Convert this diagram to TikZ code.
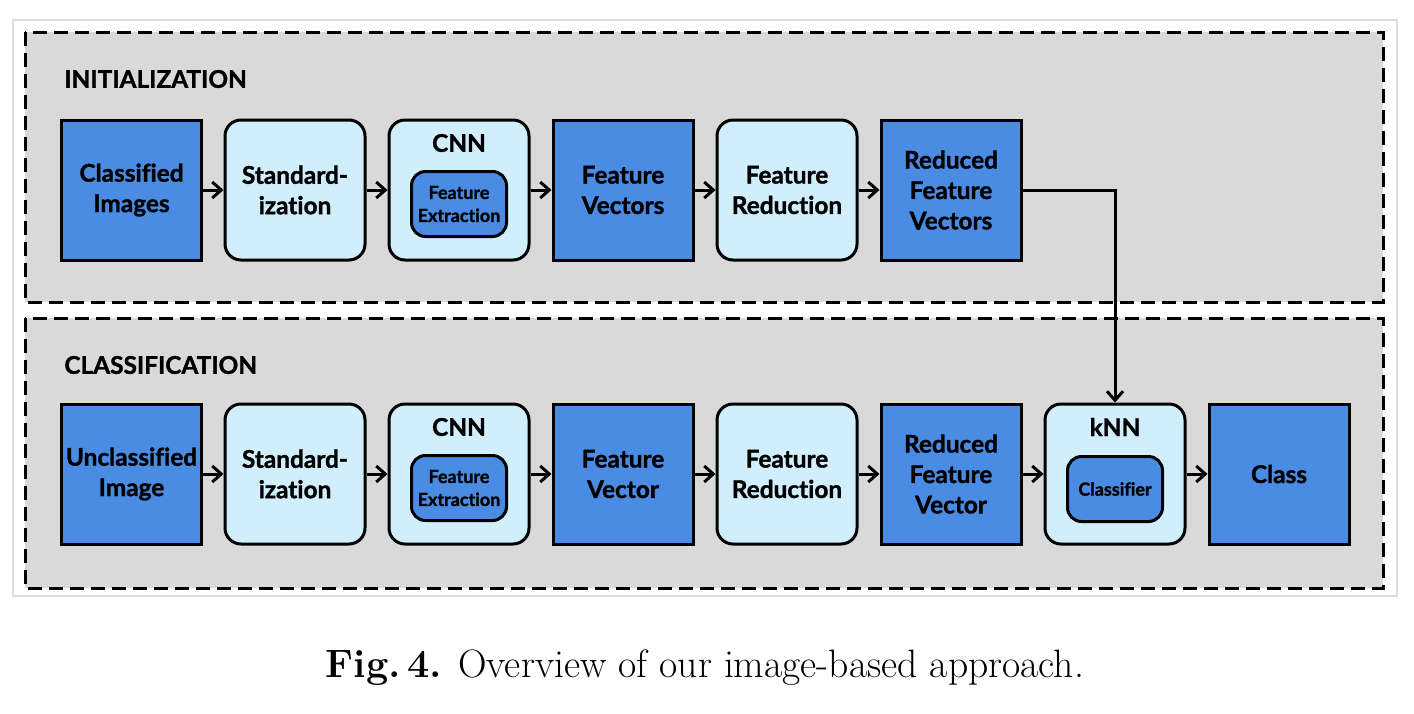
\documentclass[tikz,border=0pt]{standalone}
\usepackage{fontspec}
\newfontfamily\lato{Lato}[Ligatures=NoCommon,BoldFeatures={FakeBold=1.3}]
\usetikzlibrary{arrows.meta}
\definecolor{dblue}{RGB}{74,140,228}
\definecolor{lblue}{RGB}{208,238,252}
\definecolor{panel}{RGB}{217,217,217}
\definecolor{frame}{RGB}{220,220,220}
\begin{document}
\begin{tikzpicture}[x=0.5pt,y=-0.5pt,
  boxfont/.style={font=\lato\bfseries\fontsize{12.2}{15.2}\selectfont},
  dbox/.style={boxfont,draw=black,line width=1.5pt,fill=dblue,minimum width=70pt,minimum height=70pt,align=center,inner sep=0pt},
  lbox/.style={dbox,fill=lblue,rounded corners=8pt},
  inbox/.style={draw=black,line width=1.5pt,fill=dblue,rounded corners=7pt,minimum width=47.5pt,minimum height=32.5pt,align=center,inner sep=0pt,font=\lato\bfseries\fontsize{9}{11.5}\selectfont},
  panelbox/.style={draw=black,line width=1.5pt,fill=panel,dash pattern=on 7pt off 3.5pt},
  seclabel/.style={boxfont,anchor=west,inner sep=0pt},
  arr/.style={draw=black,line width=1.5pt,-{Straight Barb[length=4.5pt,width=8pt,line width=1.5pt]}}]
\useasboundingbox (0,0) rectangle (1414,713);
\fill[white] (0,0) rectangle (1414,713);
\draw[frame,line width=0.6pt] (13,20) rectangle (1397,596);
\draw[panelbox] (25,32) rectangle (1383,302);
\draw[panelbox] (25,318) rectangle (1383,588);
\node[seclabel] (sec1) at (64,79) {INITIALIZATION};
\node[seclabel] (sec2) at (64,365) {CLASSIFICATION};
% row 1
\node[dbox] (a1) at (131.5,190) {Classified\\Images};
\node[lbox] (a2) at (295,190) {Standard-\\ization};
\node[lbox] (a3) at (459,190) {};
\node[boxfont,inner sep=0pt] (a3t) at (459,143) {CNN};
\node[inbox] (a3i) at (459,204) {Feature\\Extraction};
\node[dbox] (a4) at (623,190) {Feature\\Vectors};
\node[lbox] (a5) at (787,190) {Feature\\Reduction};
\node[dbox] (a6) at (951,190) {Reduced\\Feature\\Vectors};
% row 2
\node[dbox] (b1) at (131.5,474) {Unclassified\\Image};
\node[lbox] (b2) at (295,474) {Standard-\\ization};
\node[lbox] (b3) at (459,474) {};
\node[boxfont,inner sep=0pt] (b3t) at (459,427) {CNN};
\node[inbox] (b3i) at (459,488) {Feature\\Extraction};
\node[dbox] (b4) at (623,474) {Feature\\Vector};
\node[lbox] (b5) at (787,474) {Feature\\Reduction};
\node[dbox] (b6) at (951,474) {Reduced\\Feature\\Vector};
\node[lbox] (b7) at (1115,474) {};
\node[boxfont,inner sep=0pt] (b7t) at (1115,427) {kNN};
\node[inbox] (b7i) at (1115,489) {Classifier};
\node[dbox] (b8) at (1279,474) {Class};
% arrows
\draw[arr] (a1) -- (a2);
\draw[arr] (a2) -- (a3);
\draw[arr] (a3) -- (a4);
\draw[arr] (a4) -- (a5);
\draw[arr] (a5) -- (a6);
\draw[arr] (b1) -- (b2);
\draw[arr] (b2) -- (b3);
\draw[arr] (b3) -- (b4);
\draw[arr] (b4) -- (b5);
\draw[arr] (b5) -- (b6);
\draw[arr] (b6) -- (b7);
\draw[arr] (b7) -- (b8);
\draw[arr] (a6.east) -| (b7.north);
% caption
\node (cap) at (705,668) {\fontsize{19.8}{23}\selectfont\textbf{Fig.\,4.} Overview of our image-based approach.};
\end{tikzpicture}
\end{document}
